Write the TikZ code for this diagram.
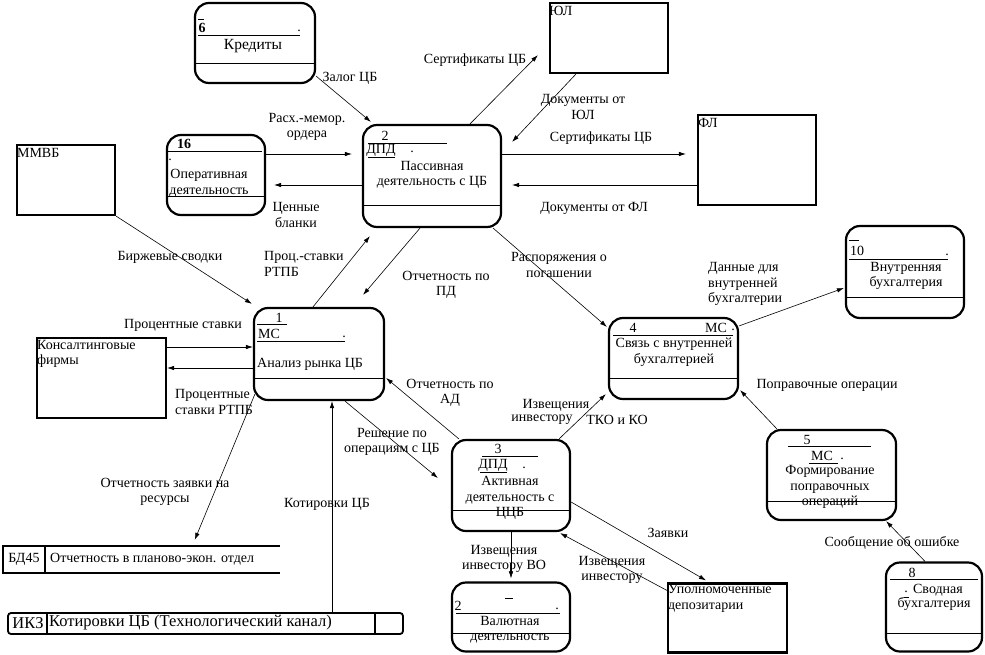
\documentclass[tikz,border=0pt]{standalone}
\usepackage{fontspec}
\setmainfont{Liberation Serif}
\usetikzlibrary{arrows.meta}
\begin{document}
\begin{tikzpicture}[x=1pt,y=-1pt,
  proc/.style={draw, rectangle, rounded corners=14pt, line width=2.2pt, inner sep=0pt},
  ent/.style={draw, rectangle, line width=2.2pt, inner sep=0pt},
  arr/.style={line width=0.6pt, -{Latex[length=7pt,width=4.5pt]}},
  sep/.style={line width=1pt},
  lbl/.style={inner sep=0pt, align=center, font=\fontsize{14}{15.5}\selectfont},
  lbll/.style={inner sep=0pt, align=left, font=\fontsize{14}{15.5}\selectfont}
]
\useasboundingbox (0,0) rectangle (985,654);

% ---------- process boxes ----------
\node[proc, minimum width=120pt, minimum height=80pt] (k6) at (255,43) {};
\node[proc, minimum width=98pt, minimum height=80pt] (b16) at (216,175) {};
\node[proc, minimum width=138pt, minimum height=102pt] (b2) at (432,176) {};
\node[proc, minimum width=130pt, minimum height=92pt] (b1) at (319,354) {};
\node[proc, minimum width=118pt, minimum height=92pt] (b10) at (905,272) {};
\node[proc, minimum width=129pt, minimum height=81pt] (b4) at (673.5,358.5) {};
\node[proc, minimum width=129pt, minimum height=90pt] (b5) at (831.5,475) {};
\node[proc, minimum width=96pt, minimum height=89pt] (b8) at (934,607) {};
\node[proc, minimum width=118pt, minimum height=91pt] (b3) at (511,485.5) {};
\node[proc, minimum width=118pt, minimum height=69pt] (bv) at (511,617) {};

% ---------- external entities ----------
\node[ent, minimum width=118pt, minimum height=70pt] (yul) at (609,38) {};
\node[ent, minimum width=118pt, minimum height=90pt] (fl) at (757,160) {};
\node[ent, minimum width=98pt, minimum height=70pt] (mmvb) at (66,180) {};
\node[ent, minimum width=129pt, minimum height=80pt] (kons) at (101.5,378) {};
\node[ent, minimum width=119pt, minimum height=69pt] (upd) at (727.5,618) {};
\node[lbll, anchor=north west] (tyul) at ([xshift=0pt,yshift=-4pt]yul.north west) {ЮЛ};
\node[lbll, anchor=north west] (tfl) at ([xshift=1pt,yshift=-4pt]fl.north west) {ФЛ};
\node[lbll, anchor=north west] (tmmvb) at ([xshift=1pt,yshift=-4pt]mmvb.north west) {ММВБ};
\node[lbll, anchor=north west] (tkons) at ([xshift=1pt,yshift=-3pt]kons.north west) {Консалтинговые\\фирмы};
\node[lbll, anchor=north west] (tupd) at ([xshift=1pt,yshift=-2pt]upd.north west) {Уполномоченные\\депозитарии};

% ---------- data store BD45 ----------
\node[inner sep=0pt, minimum width=277pt, minimum height=27pt] (bd) at (141.5,559.5) {};
\draw[line width=2pt] (bd.north east) -- (bd.north west) -- (bd.south west) -- (bd.south east);
\draw[line width=2pt] ([xshift=42pt]bd.north west) -- ([xshift=42pt]bd.south west);
\node[lbl] (tbd1) at (24,559) {БД45};
\node[lbll, anchor=west] (tbd2) at (50,559) {Отчетность в планово-экон. отдел};

% ---------- channel IKZ ----------
\node[draw, rectangle, rounded corners=3pt, line width=1.8pt, inner sep=0pt, minimum width=395pt, minimum height=21pt] (ikz) at (205.5,623.5) {};
\draw[line width=1.8pt] ([xshift=40pt]ikz.north west) -- ([xshift=40pt]ikz.south west);
\draw[line width=1.8pt] ([xshift=-29pt]ikz.north east) -- ([xshift=-29pt]ikz.south east);
\node[inner sep=0pt, font=\fontsize{16.5}{18}\selectfont] (tikz1) at (28,623) {ИКЗ};
\node[inner sep=0pt, anchor=west, font=\fontsize{16.5}{18}\selectfont] (tikz2) at (49,623) {Котировки ЦБ (Технологический канал)};

% ---------- box 6 Credits ----------
\draw[sep] (k6.west |- 0,63) -- (k6.east |- 0,63);
\draw[line width=0.8pt] (198,19) -- (204,19);
\draw[line width=0.8pt] (198,35) -- (300,35);
\node[lbl, font=\bfseries\fontsize{14}{15.5}\selectfont] (t6n) at (202,28) {6};
\node[lbl] (t6d) at (299,31) {.};
\node[lbl, font=\fontsize{15.5}{17}\selectfont] (t6) at (253,46) {Кредиты};

% ---------- box 16 ----------
\draw[sep] (b16.west |- 0,196) -- (b16.east |- 0,196);
\draw[line width=0.8pt] (168,151) -- (262,151);
\node[lbl, font=\bfseries\fontsize{14}{15.5}\selectfont] (t16n) at (184,144) {16};
\node[lbl] (t16d) at (170,160) {.};
\node[lbl] (t16) at (209,183) {Оперативная\\деятельность};

% ---------- box 2 ----------
\draw[sep] (b2.west |- 0,205) -- (b2.east |- 0,205);
\draw[line width=0.8pt] (368,143) -- (447,143);
\draw[line width=0.8pt] (368,157) -- (395,157);
\node[lbl] (t2n) at (385,136) {2};
\node[lbl] (t2a) at (381,150) {ДПД};
\node[lbl] (t2d) at (412,152) {.};
\node[lbl] (t2) at (432,175) {Пассивная\\деятельность с ЦБ};

% ---------- box 1 ----------
\draw[sep] (b1.west |- 0,378) -- (b1.east |- 0,378);
\draw[line width=0.8pt] (257,324) -- (287,324);
\draw[line width=0.8pt] (257,341) -- (345,341);
\node[lbl] (t1n) at (279,318) {1};
\node[lbl] (t1a) at (269,334) {МС};
\node[lbl] (t1d) at (344,337) {.};
\node[lbll, anchor=west] (t1) at (257,364) {Анализ рынка ЦБ};

% ---------- box 10 ----------
\draw[sep] (b10.west |- 0,297) -- (b10.east |- 0,297);
\draw[line width=0.8pt] (849,240) -- (859,240);
\draw[line width=0.8pt] (849,259) -- (948,259);
\node[lbl] (t10n) at (857,251) {10};
\node[lbl] (t10d) at (947,255) {.};
\node[lbl] (t10) at (906,276) {Внутренняя\\бухгалтерия};

% ---------- box 4 ----------
\draw[sep] (b4.west |- 0,378) -- (b4.east |- 0,378);
\draw[line width=0.8pt] (613,335) -- (733,335);
\node[lbl] (t4n) at (633,328) {4};
\node[lbl] (t4a) at (716,328) {МС};
\node[lbl] (t4d) at (733,330) {.};
\node[lbl] (t4) at (674,352) {Связь с внутренней\\бухгалтерией};

% ---------- box 5 ----------
\draw[sep] (b5.west |- 0,501) -- (b5.east |- 0,501);
\draw[line width=0.8pt] (788,446) -- (871,446);
\draw[line width=0.8pt] (809,463) -- (838,463);
\node[lbl] (t5n) at (807,440) {5};
\node[lbl] (t5a) at (822,456) {МС};
\node[lbl] (t5d) at (842,459) {.};
\node[lbl] (t5) at (830,487) {Формирование\\поправочных\\операций};

% ---------- box 8 ----------
\draw[sep] (b8.west |- 0,633) -- (b8.east |- 0,633);
\draw[line width=0.8pt] (890,579) -- (978,579);
\draw[line width=0.6pt] (904,597) -- (909,597);
\node[lbl] (t8n) at (912,573) {8};
\node[lbl] (t8d) at (906,592) {.};
\node[lbl] (t8a) at (938,590) {Сводная};
\node[lbl] (t8) at (934,604) {бухгалтерия};

% ---------- box 3 ----------
\draw[sep] (b3.west |- 0,510) -- (b3.east |- 0,510);
\draw[line width=0.8pt] (482,456) -- (538,456);
\draw[line width=0.8pt] (480,472) -- (507,472);
\node[lbl] (t3n) at (498,449) {3};
\node[lbl] (t3a) at (493,465) {ДПД};
\node[lbl] (t3d) at (524,468) {.};
\node[lbl] (t3) at (510,498) {Активная\\деятельность с\\ЦЦБ};

% ---------- box currency ----------
\draw[sep] (bv.west |- 0,633) -- (bv.east |- 0,633);
\draw[line width=0.8pt] (505,598) -- (513,598);
\draw[line width=0.8pt] (456,613) -- (560,613);
\node[lbl] (tvn) at (458,606) {2};
\node[lbl] (tvd) at (557,609) {.};
\node[lbl] (tv) at (510,630) {Валютная\\деятельность};

% ---------- connectors ----------
\draw[arr] ([yshift=8pt]k6.south east) -- ([xshift=9pt,yshift=2pt]b2.north west);
\draw[arr] ([yshift=21pt]b16.east) -- ([xshift=-10pt,yshift=22pt]b2.west);
\draw[arr] ([yshift=-9pt]b2.west) -- ([xshift=8pt,yshift=-10pt]b16.east);
\draw[arr] ([xshift=38pt]b2.north) -- ([xshift=-11pt,yshift=19pt]yul.south west);
\draw[arr] ([xshift=27pt]yul.south west) -- ([xshift=10pt,yshift=-18pt]b2.north east);
\draw[arr] ([yshift=22pt]b2.east) -- ([xshift=-11pt,yshift=6pt]fl.west);
\draw[arr] ([yshift=-25pt]fl.west) -- ([xshift=10pt,yshift=-9pt]b2.east);
\draw[arr] (mmvb.south east) -- ([xshift=-1pt,yshift=3pt]b1.north west);
\draw[arr] ([yshift=31pt]kons.east) -- ([yshift=7pt]b1.west);
\draw[arr] ([yshift=-14pt]b1.west) -- ([yshift=10pt]kons.east);
\draw[arr] ([xshift=-6pt]b1.north) -- ([xshift=8pt,yshift=-8pt]b2.south west);
\draw[arr] ([xshift=-12pt]b2.south) -- ([xshift=-22pt,yshift=12pt]b1.north east);
\draw[arr] ([xshift=-9pt]b2.south east) -- ([xshift=-1pt,yshift=-10pt]b4.north west);
\draw[arr] ([yshift=-9pt]b4.north east) -- ([xshift=-1pt,yshift=-16pt]b10.west);
\draw[arr] ([xshift=-12pt]b3.north east) -- ([xshift=-2pt,yshift=6pt]b4.south west);
\draw[arr] ([xshift=11pt]b5.north west) -- ([xshift=1pt,yshift=10pt]b4.south east);
\draw[arr] ([xshift=-9pt]b8.north) -- ([xshift=-11pt]b5.south east);
\draw[arr] ([xshift=2pt,yshift=7pt]b1.south west) -- ([xshift=192pt,yshift=6pt]bd.north west);
\draw[arr] ([xshift=126.5pt]ikz.north) -- ([xshift=13pt]b1.south);
\draw[arr] ([xshift=8pt]b3.north west) -- ([xshift=1pt,yshift=-24pt]b1.east);
\draw[arr] ([xshift=26pt]b1.south) -- ([xshift=-13pt,yshift=7.5pt]b3.west);
\draw[arr] (b3.south) -- ([yshift=3pt]bv.north);
\draw[arr] ([yshift=-16.5pt]b3.east) -- ([xshift=-21.5pt,yshift=2pt]upd.north);
\draw[arr] ([yshift=-8pt]upd.north west) -- ([xshift=-11pt,yshift=-1pt]b3.south east);

% ---------- connector labels ----------
\node[lbl] (l1) at (350,78) {Залог ЦБ};
\node[lbl] (l2) at (475,60) {Сертификаты ЦБ};
\node[lbl] (l3) at (583,107) {Документы от\\ЮЛ};
\node[lbl] (l4) at (307,127) {Расх.-мемор.\\ордера};
\node[lbl] (l5) at (601,138) {Сертификаты ЦБ};
\node[lbl] (l6) at (296,215) {Ценные\\бланки};
\node[lbl] (l7) at (594,208) {Документы от ФЛ};
\node[lbl] (l8) at (170,257) {Биржевые сводки};
\node[lbll, anchor=west] (l9) at (264,264) {Проц.-ставки\\РТПБ};
\node[lbl] (l10) at (446,285) {Отчетность по\\ПД};
\node[lbl] (l11) at (559,265) {Распоряжения о\\погашении};
\node[lbll, anchor=west] (l12) at (708,284) {Данные для\\внутренней\\бухгалтерии};
\node[lbl] (l13) at (183,325) {Процентные ставки};
\node[lbll, anchor=west] (l14) at (175,402) {Процентные\\ставки РТПБ};
\node[lbl] (l15) at (450,393) {Отчетность по\\АД};
\node[lbl] (l16) at (827,385) {Поправочные операции};
\node[lbl] (l17a) at (556,405) {Извещения};
\node[lbl] (l17b) at (542,420) {инвестору};
\node[lbl] (l18) at (617,420) {ТКО и КО};
\node[lbl] (l19) at (392,442) {Решение по\\операциям с ЦБ};
\node[lbl] (l20) at (165,492) {Отчетность заявки на\\ресурсы};
\node[lbl] (l21) at (327,504) {Котировки ЦБ};
\node[lbl] (l22) at (668,533) {Заявки};
\node[lbl] (l23) at (892,543) {Сообщение об ошибке};
\node[lbl] (l24) at (504,559) {Извещения\\инвестору ВО};
\node[lbl] (l25) at (612,570) {Извещения\\инвестору};
\end{tikzpicture}
\end{document}
